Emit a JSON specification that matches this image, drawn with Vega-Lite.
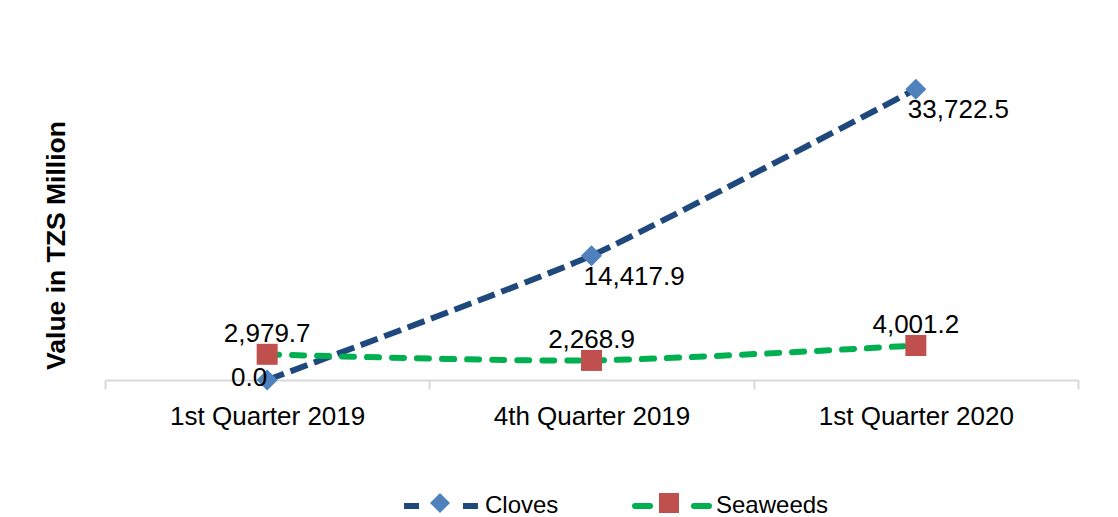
{
  "$schema": "https://vega.github.io/schema/vega-lite/v6.json",
  "width": 973,
  "height": 345,
  "autosize": {"type": "none"},
  "padding": {"left": 105, "top": 35, "right": 40, "bottom": 137},
  "background": "white",
  "config": {
    "view": {"stroke": null},
    "font": "Liberation Sans"
  },
  "data": {
    "values": [
      {"quarter": "1st Quarter 2019", "series": "Cloves", "value": 0.0},
      {"quarter": "4th Quarter 2019", "series": "Cloves", "value": 14417.9},
      {"quarter": "1st Quarter 2020", "series": "Cloves", "value": 33722.5},
      {"quarter": "1st Quarter 2019", "series": "Seaweeds", "value": 2979.7},
      {"quarter": "4th Quarter 2019", "series": "Seaweeds", "value": 2268.9},
      {"quarter": "1st Quarter 2020", "series": "Seaweeds", "value": 4001.2}
    ]
  },
  "encoding": {
    "x": {
      "field": "quarter",
      "type": "nominal",
      "sort": null,
      "scale": {"paddingInner": 0, "paddingOuter": 0},
      "axis": {
        "title": null,
        "labelAngle": 0,
        "labelLimit": 0,
        "domainColor": "#D9D9D9",
        "domainWidth": 2,
        "tickColor": "#D9D9D9",
        "tickWidth": 2,
        "tickSize": 9,
        "tickBand": "extent",
        "labelFont": "Liberation Sans",
        "labelFontSize": 26,
        "labelColor": "#000000",
        "labelPadding": 14
      }
    },
    "y": {
      "field": "value",
      "type": "quantitative",
      "scale": {"domain": [0, 40000]},
      "axis": {
        "title": "Value in TZS Million",
        "labels": false,
        "ticks": false,
        "domain": false,
        "grid": false,
        "titleFont": "Liberation Sans",
        "titleFontSize": 26.5,
        "titleFontWeight": "bold",
        "titleColor": "#000000",
        "titlePadding": 35,
        "titleY": 210
      }
    }
  },
  "layer": [
    {
      "transform": [{"filter": "datum.series === 'Cloves'"}],
      "mark": {"type": "line", "interpolate": "cardinal", "tension": 0.5, "strokeWidth": 6, "strokeCap": "butt", "strokeDash": [18, 7]},
      "encoding": {
        "stroke": {
          "field": "series",
          "type": "nominal",
          "scale": {"domain": ["Cloves", "Seaweeds"], "range": ["#1F497D", "#00B050"]},
          "legend": {
            "title": null,
            "orient": "none",
            "direction": "horizontal",
            "legendX": 296,
            "legendY": 431,
            "symbolType": "stroke",
            "symbolSize": 5476,
            "symbolStrokeWidth": 6,
            "labelFont": "Liberation Sans",
            "labelFontSize": 24,
            "labelColor": "#000000",
            "labelOffset": 4,
            "labelLimit": 0,
            "columnPadding": 64,
            "encode": {
              "symbols": {
                "update": {
                  "strokeDash": {"value": [15, 44]},
                  "strokeCap": {"signal": "datum.value === 'Seaweeds' ? 'round' : 'butt'"}
                }
              }
            }
          }
        }
      }
    },
    {
      "transform": [{"filter": "datum.series === 'Seaweeds'"}],
      "mark": {"type": "line", "interpolate": "cardinal", "tension": 0.2, "strokeWidth": 6, "strokeCap": "round", "strokeDash": [12, 13]},
      "encoding": {
        "stroke": {
          "field": "series",
          "type": "nominal",
          "scale": {"domain": ["Cloves", "Seaweeds"], "range": ["#1F497D", "#00B050"]}
        }
      }
    },
    {
      "mark": {"type": "point", "filled": true, "opacity": 1, "size": 441},
      "encoding": {
        "color": {
          "field": "series",
          "type": "nominal",
          "scale": {"range": ["#4F81BD", "#C0504D"]},
          "legend": {
            "title": null,
            "orient": "none",
            "direction": "horizontal",
            "legendX": 323,
            "legendY": 456,
            "symbolSize": 400,
            "symbolStrokeWidth": 0,
            "symbolOpacity": 1,
            "labelFont": "Liberation Sans",
            "labelFontSize": 24,
            "labelColor": "transparent",
            "labelOffset": 4,
            "labelLimit": 0,
            "columnPadding": 127
          }
        },
        "shape": {
          "field": "series",
          "type": "nominal",
          "scale": {"range": ["diamond", "square"]}
        }
      }
    },
    {
      "transform": [{"filter": "datum.series === 'Seaweeds'"}],
      "mark": {"type": "text", "fontSize": 26, "align": "center", "baseline": "alphabetic", "dy": -12, "color": "#000000"},
      "encoding": {"text": {"field": "value", "type": "quantitative", "format": ",.1f"}}
    },
    {
      "transform": [{"filter": "datum.series === 'Cloves' && datum.value > 0"}],
      "mark": {"type": "text", "fontSize": 26, "align": "left", "baseline": "alphabetic", "dx": -8, "dy": 29, "color": "#000000"},
      "encoding": {"text": {"field": "value", "type": "quantitative", "format": ",.1f"}}
    },
    {
      "transform": [{"filter": "datum.series === 'Cloves' && datum.value === 0"}],
      "mark": {"type": "text", "fontSize": 26, "align": "right", "baseline": "alphabetic", "dx": 0, "dy": 6, "color": "#000000"},
      "encoding": {"text": {"field": "value", "type": "quantitative", "format": ",.1f"}}
    }
  ]
}
